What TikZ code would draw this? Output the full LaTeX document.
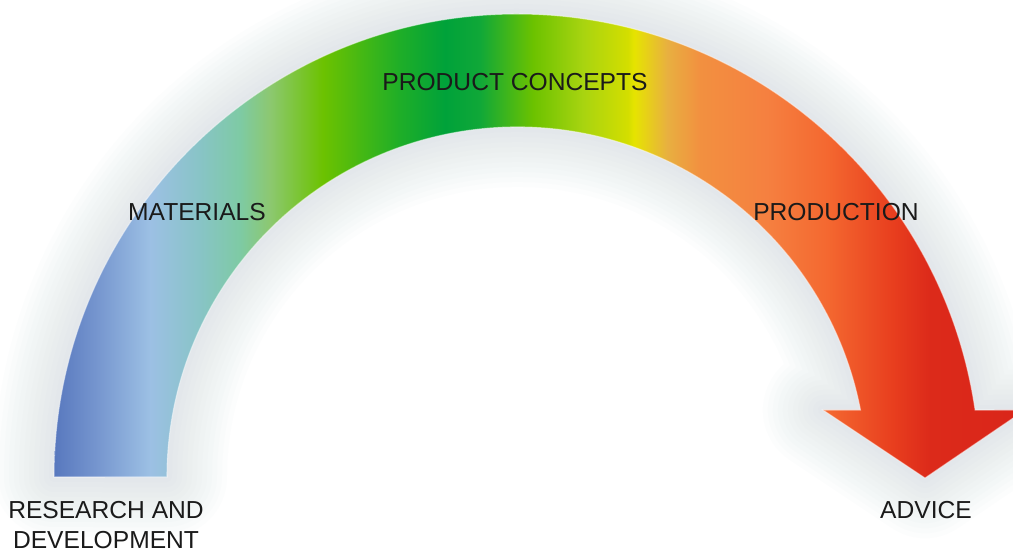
\documentclass[tikz,border=0pt]{standalone}
\usepackage{fontspec}
\setmainfont{Liberation Sans}
\usetikzlibrary{positioning}
\definecolor{ink}{HTML}{1A1A1A}
\definecolor{haze}{HTML}{B4C0D0}
\definecolor{bandA}{HTML}{5878BE}
\definecolor{bandB}{HTML}{7898D0}
\definecolor{bandC}{HTML}{9CC0E4}
\definecolor{bandD}{HTML}{88C4C6}
\definecolor{bandE}{HTML}{7ECAA4}
\definecolor{bandF}{HTML}{8CC870}
\definecolor{bandG}{HTML}{6CC200}
\definecolor{bandH}{HTML}{1EAE28}
\definecolor{bandI}{HTML}{00A23A}
\definecolor{bandJ}{HTML}{10A838}
\definecolor{bandK}{HTML}{6CC200}
\definecolor{bandL}{HTML}{A8D410}
\definecolor{bandM}{HTML}{D4DE00}
\definecolor{bandN}{HTML}{E6E400}
\definecolor{bandO}{HTML}{E8B040}
\definecolor{bandP}{HTML}{F29040}
\definecolor{bandQ}{HTML}{F58040}
\definecolor{bandR}{HTML}{F46830}
\definecolor{bandS}{HTML}{E83E1E}
\definecolor{bandT}{HTML}{DC2A1A}
\definecolor{bandU}{HTML}{DA261A}
\pgfdeclarehorizontalshading{arcgrad}{100bp}{%
  color(0bp)=(bandA); color(27.67bp)=(bandA); color(29.94bp)=(bandB);
  color(32.40bp)=(bandC); color(34.87bp)=(bandD); color(36.85bp)=(bandE);
  color(38.33bp)=(bandF); color(40.94bp)=(bandG); color(44.74bp)=(bandH);
  color(46.96bp)=(bandI); color(48.69bp)=(bandJ); color(51.31bp)=(bandK);
  color(53.78bp)=(bandL); color(56.00bp)=(bandM); color(56.29bp)=(bandN);
  color(57.92bp)=(bandO); color(59.55bp)=(bandP); color(62.86bp)=(bandQ);
  color(65.82bp)=(bandR); color(69.08bp)=(bandS); color(70.90bp)=(bandT);
  color(75bp)=(bandU); color(100bp)=(bandU)}
\tikzset{
  stage label/.style={font=\fontsize{14}{17}\selectfont,text=ink,
    inner sep=0pt,align=center},
  halo/.style={draw=haze,line join=round,opacity=.03},
  rim/.style={draw=white,line width=.6pt,opacity=.5},
}
\newcommand{\bandshape}{(54,74) arc[start angle=180,end angle=8.32,radius=463]
  -- (1025,141) -- (925,73) -- (823,141) -- (860.5,141)
  arc[start angle=11.04,end angle=180,radius=350] -- cycle}

\begin{document}
\begin{tikzpicture}[x=0.2mm,y=0.2mm]
  \useasboundingbox (0,0) rectangle (1013,551);
  \fill[white] (0,0) rectangle (1013,551);

  % soft glow round the band
  \foreach \w in {24,22,...,2}
    \draw[halo,line width=\w mm] \bandshape;

  \begin{scope}
    \clip \bandshape;
    \shade[shading=arcgrad] (0,0) rectangle (1013,551);
  \end{scope}
  \draw[rim] \bandshape;

  \node[stage label] (concepts) at (515,469) {PRODUCT CONCEPTS};
  \node[stage label] (materials) at (197,339) {MATERIALS};
  \node[stage label] (production) at (836,339) {PRODUCTION};
  \node[stage label] (research) at (106,26) {RESEARCH AND\\DEVELOPMENT};
  \node[stage label] (advice) at (926,41) {ADVICE};

\end{tikzpicture}
\end{document}
